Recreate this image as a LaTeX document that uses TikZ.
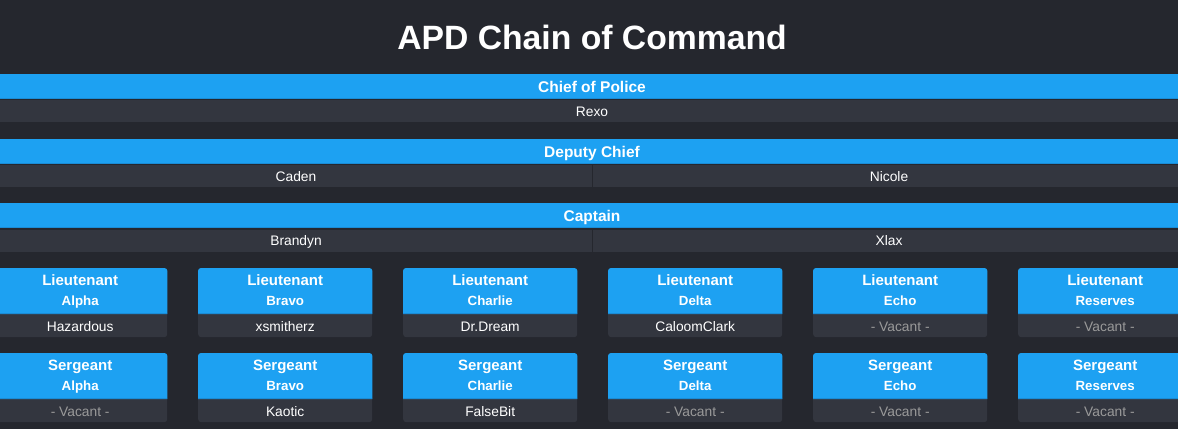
\documentclass[tikz,border=0pt]{standalone}
\usepackage{fontspec}
\setmainfont{Liberation Sans}
\definecolor{pagebg}{HTML}{25272E}
\definecolor{rowbg}{HTML}{33363F}
\definecolor{apdblue}{HTML}{1DA1F2}
\definecolor{edgeblue}{HTML}{1A8CD6}
\definecolor{vacantgray}{HTML}{9A9A9A}
\newcommand{\vacant}{\textcolor{vacantgray}{- Vacant -}}

\begin{document}
\begin{tikzpicture}
	[%%%%%%%%%%%%%%%%%%%%%%%%%%%%%%
	x=1pt,y=-1pt,
	band/.style={rectangle,fill=apdblue,inner sep=0pt,minimum width=1178pt,minimum height=25pt,anchor=north west},
	bandrow/.style={rectangle,fill=rowbg,inner sep=0pt,minimum width=1178pt,minimum height=22pt,anchor=north west},
	bandtext/.style={text=white,anchor=base,font=\bfseries\fontsize{15.5}{18}\selectfont},
	nametext/.style={text=white,anchor=base,font=\fontsize{13.8}{16}\selectfont},
	card/.style={rectangle,rounded corners=3pt,fill=rowbg,inner sep=0pt,minimum width=174pt,minimum height=69pt,anchor=north west},
	ranktext/.style={text=white,anchor=base,font=\bfseries\fontsize{15}{18}\selectfont},
	unittext/.style={text=white,anchor=base,font=\bfseries\fontsize{13.3}{15}\selectfont},
	edge/.style={draw=edgeblue,line width=1pt},
	split/.style={draw=pagebg,line width=1pt},
	]%%%%%%%%%%%%%%%%%%%%%%%%%%%%%%
	
	\fill[pagebg] (0,0) rectangle (1178,429);
	\clip (0,0) rectangle (1178,429);
	\node[text=white,anchor=base,font=\bfseries\fontsize{33.7}{40}\selectfont] (title) at (592,49) {APD Chain of Command};
	
	% chief, deputy, captain
	\node[band] (chief) at (0,74) {};
	\node[bandrow] (chiefrow) at (0,100) {};
	\node[band] (deputy) at (0,139) {};
	\node[bandrow] (deputyrow) at (0,165) {};
	\node[band] (captain) at (0,203) {};
	\node[bandrow] (captainrow) at (0,230) {};
	\foreach \b in {chief,deputy,captain}
		\draw[edge] ([yshift=0.5pt]\b.south west) -- ([yshift=0.5pt]\b.south east);
	\draw[split] ([xshift=3pt]deputyrow.north) -- ([xshift=3pt]deputyrow.south);
	\draw[split] ([xshift=3pt]captainrow.north) -- ([xshift=3pt]captainrow.south);
	
	\node[bandtext] (chieft) at (592,92) {Chief of Police};
	\node[nametext] (rexo) at (592,116) {Rexo};
	\node[bandtext] (deputyt) at (592,157) {Deputy Chief};
	\node[nametext] (caden) at (296,181) {Caden};
	\node[nametext] (nicole) at (889,181) {Nicole};
	\node[bandtext] (captaint) at (592,221.5) {Captain};
	\node[nametext] (brandyn) at (296,245.5) {Brandyn};
	\node[nametext] (xlax) at (889,245.5) {Xlax};
	
	% lieutenants and sergeants
	\foreach \i/\unit/\lname/\sname in {0/Alpha/Hazardous/\vacant, 1/Bravo/xsmitherz/Kaotic, 2/Charlie/Dr.Dream/FalseBit, 3/Delta/CaloomClark/\vacant, 4/Echo/\vacant/\vacant, 5/Reserves/\vacant/\vacant}{
		\pgfmathsetmacro{\cx}{-7+205*\i}
		\node[card] (lt\i) at (\cx,268) {};
		\node[card] (sgt\i) at (\cx,353) {};
		\foreach \c in {lt\i,sgt\i}{
			\fill[apdblue] ([yshift=-46pt]\c.north west) [rounded corners=3pt] -- (\c.north west) -- (\c.north east) [sharp corners] -- ([yshift=-46pt]\c.north east) -- cycle;
			\draw[edge] ([yshift=-45.5pt]\c.north west) -- ([yshift=-45.5pt]\c.north east);
		}
		\node[ranktext] (ltrank\i) at ([yshift=-17.7pt]lt\i.north) {Lieutenant};
		\node[unittext] (ltunit\i) at ([yshift=-37.8pt]lt\i.north) {\unit};
		\node[nametext] (ltname\i) at ([yshift=-63pt]lt\i.north) {\lname};
		\node[ranktext] (sgtrank\i) at ([yshift=-17.7pt]sgt\i.north) {Sergeant};
		\node[unittext] (sgtunit\i) at ([yshift=-37.8pt]sgt\i.north) {\unit};
		\node[nametext] (sgtname\i) at ([yshift=-63pt]sgt\i.north) {\sname};
	}
	
	\end{tikzpicture}
\end{document}
